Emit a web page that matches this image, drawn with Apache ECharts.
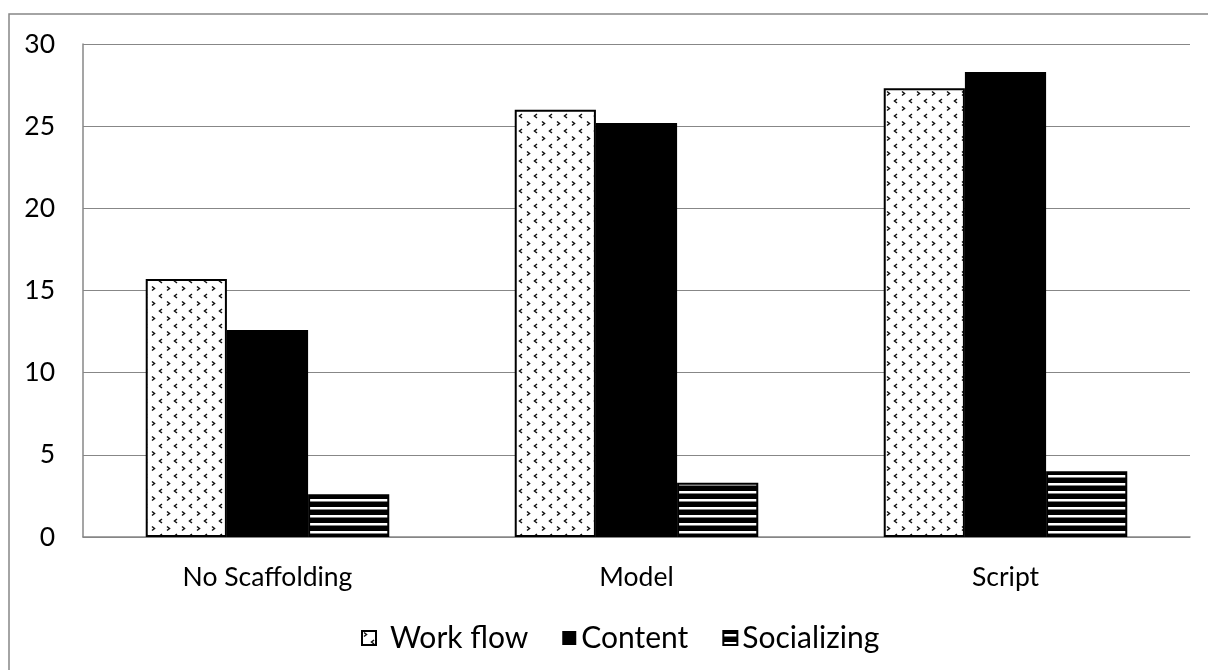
<!DOCTYPE html>
<html>
<head>
<meta charset="utf-8">
<script src="https://cdn.jsdelivr.net/npm/echarts@6/dist/echarts.min.js"></script>
<style>
  html, body { margin: 0; padding: 0; background: #fff; }
  #chart { width: 1208px; height: 670px; }
</style>
</head>
<body>
<div id="chart"></div>
<script>
// Scaffolding conditions and the three activity categories
const categories = ['No Scaffolding', 'Model', 'Script'];
const workFlow = [15.7, 26.0, 27.3];
const content = [12.6, 25.2, 28.3];
const socializing = [2.6, 3.3, 4.0];
const seriesNames = ['Work flow', 'Content', 'Socializing'];

// Dotted "> <" fill used for the Work flow bars
function makeDotPattern() {
  const c = document.createElement('canvas');
  c.width = 15; c.height = 15;
  const g = c.getContext('2d');
  g.fillStyle = '#fff';
  g.fillRect(0, 0, 15, 15);
  g.strokeStyle = '#111';
  g.lineWidth = 1.5;
  // ">"
  g.beginPath();
  g.moveTo(2, 1.5); g.lineTo(4.5, 3.5); g.lineTo(2, 5.5);
  g.stroke();
  // "<"
  g.beginPath();
  g.moveTo(12, 9); g.lineTo(9.5, 11); g.lineTo(12, 13);
  g.stroke();
  return c;
}

// Horizontal black/white stripes used for the Socializing bars
function makeStripePattern() {
  const c = document.createElement('canvas');
  c.width = 8; c.height = 8;
  const g = c.getContext('2d');
  g.fillStyle = '#000';
  g.fillRect(0, 0, 8, 8);
  g.fillStyle = '#fff';
  g.fillRect(0, 3, 8, 2.5);
  return c;
}

const FONT = 'Lato';
const chart = echarts.init(document.getElementById('chart'), null, { renderer: 'canvas' });

const option = {
  backgroundColor: '#fff',
  animation: false,
  graphic: [{
    type: 'rect',
    shape: { x: 9, y: 14, width: 1400, height: 800 },
    style: { fill: 'none', stroke: '#878787', lineWidth: 1.5 },
    silent: true
  }],
  grid: { left: 83, right: 18, top: 44, bottom: 133 },
  legend: {
    left: 356,
    top: 618,
    icon: 'rect',
    itemWidth: 14,
    itemHeight: 14,
    itemGap: 34,
    textStyle: { fontFamily: FONT, fontSize: 30, color: '#000' },
    data: [
      { name: seriesNames[0], textStyle: { padding: [0, 0, 0, 9] } },
      { name: seriesNames[1] },
      { name: seriesNames[2] }
    ]
  },
  xAxis: {
    type: 'category',
    data: categories,
    axisTick: { show: false },
    axisLine: { lineStyle: { color: '#878787', width: 1.5 } },
    axisLabel: { fontFamily: FONT, fontSize: 26.5, color: '#000', margin: 27 }
  },
  yAxis: {
    type: 'value',
    min: 0,
    max: 30,
    interval: 5,
    axisLine: { show: true, lineStyle: { color: '#878787', width: 1.5 } },
    axisTick: { show: false },
    splitLine: { lineStyle: { color: '#878787', width: 1.2 } },
    axisLabel: { fontFamily: FONT, fontSize: 26.5, color: '#000', margin: 28 }
  },
  series: [
    {
      name: seriesNames[0],
      type: 'bar',
      data: workFlow,
      barGap: '0%',
      barCategoryGap: '34%',
      itemStyle: {
        color: { image: makeDotPattern(), repeat: 'repeat' },
        borderColor: '#000',
        borderWidth: 2
      }
    },
    {
      name: seriesNames[1],
      type: 'bar',
      data: content,
      barGap: '0%',
      barCategoryGap: '34%',
      itemStyle: { color: '#000', borderColor: '#000', borderWidth: 0 }
    },
    {
      name: seriesNames[2],
      type: 'bar',
      data: socializing,
      barGap: '0%',
      barCategoryGap: '34%',
      itemStyle: {
        color: { image: makeStripePattern(), repeat: 'repeat' },
        borderColor: '#000',
        borderWidth: 2
      }
    }
  ]
};

chart.setOption(option);
</script>
</body>
</html>
